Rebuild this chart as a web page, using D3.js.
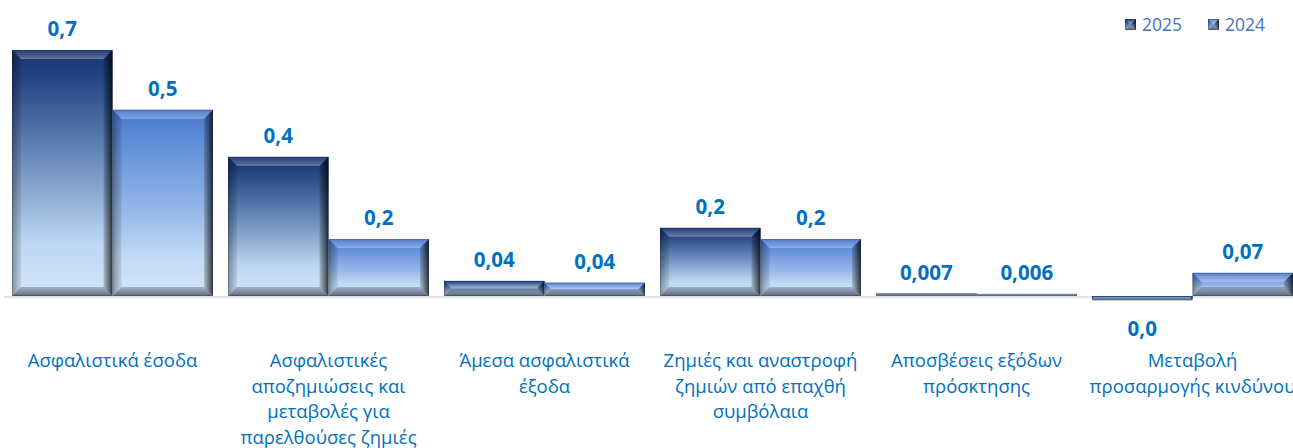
<!DOCTYPE html>
<html>
<head>
<meta charset="utf-8">
<script src="https://cdn.jsdelivr.net/npm/d3@7"></script>
<style>
  html, body { margin: 0; padding: 0; background: #ffffff; overflow: hidden; }
  svg { display: block; }
</style>
</head>
<body>
<svg id="chart" width="1293" height="448"></svg>
<script>
// Categories (Greek labels, split into display lines)
const categories = [
  ["Ασφαλιστικά έσοδα"],
  ["Ασφαλιστικές", "αποζημιώσεις και", "μεταβολές για", "παρελθούσες ζημιές"],
  ["Άμεσα ασφαλιστικά", "έξοδα"],
  ["Ζημιές και αναστροφή", "ζημιών από επαχθή", "συμβόλαια"],
  ["Αποσβέσεις εξόδων", "πρόσκτησης"],
  ["Μεταβολή", "προσαρμογής κινδύνου"]
];
const seriesNames = ["2025", "2024"];
const values2025 = [0.70, 0.396, 0.043, 0.194, 0.007, -0.012];
const values2024 = [0.530, 0.162, 0.038, 0.162, 0.006, 0.066];
// decimals shown in each data label
const decimals2025 = [1, 1, 2, 1, 3, 1];
const decimals2024 = [1, 1, 2, 1, 3, 2];

const W = 1293, H = 448;
const svg = d3.select("#chart");
const defs = svg.append("defs");

const catKeys = categories.map((c, i) => "c" + i);
const seriesValues = { "2025": values2025, "2024": values2024 };
const seriesDecimals = { "2025": decimals2025, "2024": decimals2024 };

const x0 = d3.scaleBand().domain(catKeys).range([4.5, 1300.5])
  .paddingInner(15 / 216).paddingOuter(7.5 / 216);
const x1 = d3.scaleBand().domain(seriesNames).range([0, x0.bandwidth()]).padding(0);
const y = d3.scaleLinear().domain([0, 0.7]).range([296, 50]);

// face gradients for each series
const faceStops = {
  "2025": [[0, "#18336f"], [0.12, "#254683"], [0.45, "#6c8dbd"], [0.78, "#bcd6f2"], [1, "#d3e5f9"]],
  "2024": [[0, "#4778cf"], [0.15, "#5d8ad6"], [0.5, "#8fb2e6"], [0.8, "#c3dbf5"], [1, "#d4e6fa"]]
};
seriesNames.forEach(s => {
  const g = defs.append("linearGradient").attr("id", "face" + s)
    .attr("x1", 0).attr("y1", 0).attr("x2", 0).attr("y2", 1);
  faceStops[s].forEach(([o, c]) => g.append("stop").attr("offset", o).attr("stop-color", c));
});
// bevel shading gradients
const rg = defs.append("linearGradient").attr("id", "bevRight").attr("x1", 0).attr("x2", 1).attr("y1", 0).attr("y2", 0);
rg.append("stop").attr("offset", 0).attr("stop-color", "#000").attr("stop-opacity", 0.15);
rg.append("stop").attr("offset", 1).attr("stop-color", "#000").attr("stop-opacity", 0.75);
const lg = defs.append("linearGradient").attr("id", "bevLeft").attr("x1", 0).attr("x2", 1).attr("y1", 0).attr("y2", 0);
lg.append("stop").attr("offset", 0).attr("stop-color", "#000").attr("stop-opacity", 0.35);
lg.append("stop").attr("offset", 1).attr("stop-color", "#000").attr("stop-opacity", 0.08);
const tg = defs.append("linearGradient").attr("id", "bevTop").attr("x1", 0).attr("x2", 0).attr("y1", 0).attr("y2", 1);
tg.append("stop").attr("offset", 0).attr("stop-color", "#fff").attr("stop-opacity", 0.05);
tg.append("stop").attr("offset", 0.75).attr("stop-color", "#fff").attr("stop-opacity", 0.22);
tg.append("stop").attr("offset", 1).attr("stop-color", "#fff").attr("stop-opacity", 0.35);
const bg = defs.append("linearGradient").attr("id", "bevBottom").attr("x1", 0).attr("x2", 0).attr("y1", 0).attr("y2", 1);
bg.append("stop").attr("offset", 0).attr("stop-color", "#33415a").attr("stop-opacity", 0.3);
bg.append("stop").attr("offset", 1).attr("stop-color", "#1c2535").attr("stop-opacity", 0.65);

// baseline
svg.append("line")
  .attr("x1", 4).attr("x2", W).attr("y1", 297).attr("y2", 297)
  .attr("stroke", "#d9d9d9").attr("stroke-width", 1.5);

function bevelBar(g, bx, by, bw, bh, s) {
  const b = Math.min(9, bh / 2, bw / 2);
  const L = bx, R = bx + bw, T = by, B = by + bh;
  g.append("rect").attr("x", L).attr("y", T).attr("width", bw).attr("height", bh)
    .attr("fill", `url(#face${s})`);
  const poly = (pts, fill) => g.append("polygon")
    .attr("points", pts.map(p => p.join(",")).join(" ")).attr("fill", fill);
  poly([[L, T], [R, T], [R - b, T + b], [L + b, T + b]], "url(#bevTop)");
  poly([[L, B], [R, B], [R - b, B - b], [L + b, B - b]], "url(#bevBottom)");
  poly([[L, T], [L + b, T + b], [L + b, B - b], [L, B]], "url(#bevLeft)");
  poly([[R, T], [R - b, T + b], [R - b, B - b], [R, B]], "url(#bevRight)");
  g.append("rect").attr("x", L + 0.5).attr("y", T + 0.5).attr("width", Math.max(0, bw - 1)).attr("height", Math.max(0, bh - 1))
    .attr("fill", "none").attr("stroke", "#0d1a33").attr("stroke-opacity", 0.25).attr("stroke-width", 1);
}

function fmt(v, d) {
  let s = v.toFixed(d);
  if (+s === 0) s = Math.abs(v).toFixed(d);
  return s.replace(".", ",");
}

const groups = svg.append("g").selectAll("g").data(catKeys).join("g")
  .attr("transform", k => `translate(${x0(k)},0)`);

groups.each(function (k, i) {
  const g = d3.select(this);
  seriesNames.forEach(s => {
    const v = seriesValues[s][i];
    const bx = x1(s), bw = x1.bandwidth();
    const top = y(Math.max(0, v)), bot = y(Math.min(0, v));
    bevelBar(g, bx, top, bw, Math.max(bot - top, 1.5), s);
    g.append("text")
      .attr("x", bx + bw / 2)
      .attr("y", v >= 0 ? top - 14 : bot + 36)
      .attr("text-anchor", "middle")
      .attr("font-family", "'Open Sans', 'Noto Sans', sans-serif")
      .attr("font-weight", 700)
      .attr("font-size", 20.5)
      .attr("fill", "#0070c0")
      .text(fmt(v, seriesDecimals[s][i]));
  });
  const t = g.append("text")
    .attr("x", x0.bandwidth() / 2)
    .attr("y", 367)
    .attr("text-anchor", "middle")
    .attr("font-family", "'Open Sans', 'Noto Sans', sans-serif")
    .attr("font-size", 18.5)
    .attr("fill", "#0070c0");
  categories[i].forEach((line, j) => {
    t.append("tspan").attr("x", x0.bandwidth() / 2).attr("y", 367 + j * 25.5).text(line);
  });
});

// legend
const legendX = [1125, 1208];
const legend = svg.append("g");
seriesNames.forEach((s, i) => {
  const lgI = legend.append("g").attr("transform", `translate(${legendX[i]},19)`);
  bevelBar(lgI, 0, 0, 11, 11, s);
  lgI.append("text").attr("x", 17).attr("y", 12)
    .attr("font-family", "'Open Sans', 'Noto Sans', sans-serif")
    .attr("font-size", 17.5).attr("fill", "#4472c4").text(s);
});
</script>
</body>
</html>
